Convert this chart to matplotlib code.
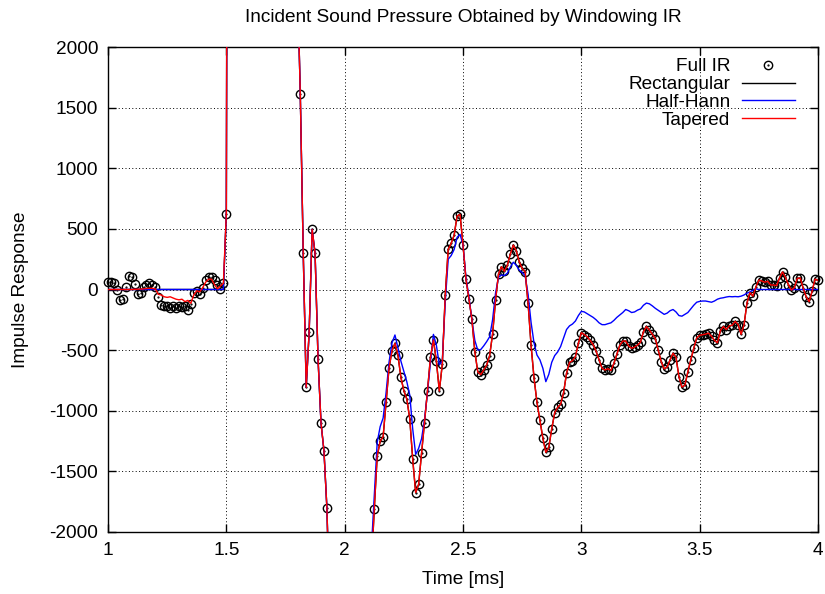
import numpy as np
import matplotlib
matplotlib.use("Agg")
import matplotlib.pyplot as plt
from matplotlib.legend_handler import HandlerTuple

plt.rcParams['font.family'] = ['Liberation Sans', 'DejaVu Sans']
plt.rcParams['axes.unicode_minus'] = False

# sample grid of the impulse response
t_start = 1.0    # ms
dt = 0.0125      # ms per sample

# full (unwindowed) impulse response, one value per sample from 1.0 ms to 4.0 ms
full_ir = [
    64, 60, 50, -5, -90, -80, 20, 110, 100, 45, -40, -25, 20, 40, 55, 40,
    20, -60, -130, -140, -135, -150, -140, -150, -140, -145, -135, -165, -120,
    -25, -10, -40, 15, 80, 100, 100, 75, 40, 5, 55, 625,
    # direct sound, far above the plotted range
    12000, 19000, 16000, 9500, 6000, 5200, 7400, 8100, 6300, 4700, 4100, 5300,
    6100, 5400, 4300, 3700, 4600, 5100, 4700, 3900, 3500, 3900, 4100, 2600,
    1610, 298, -807, -350, 496, 298, -573, -1100, -1330, -1805,
    -2700, -4500, -6200, -7100, -6400, -5500, -4900, -5200, -4700, -4000,
    -3400, -3700, -3100, -2800, -2300,
    -1813, -1373, -1252, -1214, -930, -647, -505, -444, -540, -724, -834, -903,
    -1065, -1400, -1675, -1607, -1351, -1104, -834, -559, -416, -590, -837,
    -617, -45, 331, 381, 447, 606, 620, 367, 84, -76, -246, -513, -680, -702,
    -664, -623, -546, -367, -89, 128,
    188, 150, 200, 293, 367, 320, 230, 175, 147, -114, -458, -727, -930, -1076,
    -1227, -1343, -1302, -1148, -1016, -972, -947, -851, -691, -601, -587,
    -554, -444, -356, -372, -390, -420, -455, -510,
    -580, -650, -664, -653, -668, -610, -535, -460, -425, -425, -466, -485,
    -475, -458, -435, -348, -305, -334, -370, -405, -500, -595, -655, -640,
    -580, -525, -560, -720, -805, -790, -680, -580, -485, -400, -378, -373,
    -368, -360, -385, -420, -440, -340, -305, -330, -300, -295, -262, -290,
    -370, -290, -110, -25, -55, 20, 78, 70, 60, 68, 37, 37, 32, 95, 145, 100,
    40, -5, 15, 92, 95, 10, -60, -100, -15, 86, 75,
]

# tapered window: leading samples before the window reaches full gain
tapered_head = [
    0, 0, 0, 0, 0, 0, 0, 0, 0, 2, 2, 3, 5, 8, 10, 10, 5, -40, -45, -60, -65,
    -60, -70, -80, -85, -80, -100, -90, -114, -45, -10, -20, 15, 60, 85, 85,
    40, 5, 30, 50,
]

# half-Hann windowed response where it departs from the full IR
hann_start = 40
hann_tail_start = 89
half_hann_tail = [
    -2150, -1700, -1260, -1131, -1060, -850, -600, -440, -375, -480, -590,
    -675, -760, -870, -1150, -1360, -1310, -1230, -1070, -850, -600, -370,
    -460, -620, -590, -100, 250, 280, 330, 430, 455, 370, 100, -60, -250,
    -420, -500, -495, -465, -430, -390, -250, -30, 100, 120, 115, 135, 185,
    225, 200, 160, 140, 115, -40, -270, -440, -540, -580, -650, -760, -700,
    -600, -545, -515, -470, -400, -330, -300, -285, -260, -215, -180, -185,
    -200, -215, -230, -250, -275, -290, -290, -282, -275, -255, -230, -210,
    -190, -165, -175, -190, -185, -170, -160, -130, -112, -118, -135, -155,
    -172, -190, -205, -195, -175, -165, -185, -215, -220, -205, -190, -160,
    -130, -105, -98, -95, -95, -100, -105, -95, -80, -72, -68, -62, -58, -60,
    -58, -60, -55, -45, -30, -20, -5, 5,
]

rect_start = 40

n = len(full_ir)
t = t_start + dt * np.arange(n)
full = np.array(full_ir, dtype=float)

rect = np.zeros(n)
rect[rect_start:] = full[rect_start:]

half_hann = np.zeros(n)
half_hann[hann_start:hann_tail_start] = full[hann_start:hann_tail_start]
half_hann[hann_tail_start:hann_tail_start + len(half_hann_tail)] = half_hann_tail

tapered = np.concatenate([tapered_head, full[len(tapered_head):]])

ymin, ymax = -2000, 2000
fs = 13.7

fig = plt.figure(figsize=(8.25, 5.94), dpi=100)
ax = fig.add_axes([108 / 825, 1 - 532 / 594, 710 / 825, 485 / 594])

inside = (full >= ymin) & (full <= ymax)
circ, = ax.plot(t[inside], full[inside], 'o', ms=6, mfc='none', mec='black',
                mew=1.0, clip_on=False, zorder=2)
dot, = ax.plot(t[inside], full[inside], '.', ms=1.2, color='black',
               clip_on=False, zorder=2)
l_rect, = ax.plot(t, rect, color='black', lw=1.0, zorder=3)
l_hann, = ax.plot(t, half_hann, color='#0000ff', lw=1.0, zorder=4)
l_tap, = ax.plot(t, tapered, color='#ff0000', lw=1.0, zorder=5)

ax.set_xlim(1, 4)
ax.set_ylim(ymin, ymax)
ax.set_xticks(np.arange(1, 4.01, 0.5))
ax.set_xticklabels(['%g' % v for v in np.arange(1, 4.01, 0.5)])
ax.set_yticks(np.arange(ymin, ymax + 1, 500))
ax.set_yticklabels(['%d' % v for v in np.arange(ymin, ymax + 1, 500)])
ax.tick_params(direction='in', top=True, right=True, length=6, width=1,
               labelsize=fs, pad=7)
ax.grid(True, linestyle=(0, (1, 2.5)), color='black', lw=0.7)
ax.set_axisbelow(True)
for s in ax.spines.values():
    s.set_linewidth(1.0)

ax.set_xlabel('Time [ms]', fontsize=fs, labelpad=9)
ax.set_ylabel('Impulse Response', fontsize=fs, labelpad=15)
fig.text(463 / 825, 1 - 18 / 594, 'Incident Sound Pressure Obtained by Windowing IR',
         ha='center', va='center', fontsize=fs)

leg = ax.legend([(circ, dot), l_rect, l_hann, l_tap],
                ['Full IR', 'Rectangular', 'Half-Hann', 'Tapered'],
                handler_map={tuple: HandlerTuple(ndivide=1, pad=0)},
                loc='upper right', bbox_to_anchor=(795 / 825, 1 - 58 / 594),
                bbox_transform=fig.transFigure, frameon=False, markerfirst=False,
                fontsize=fs, handlelength=2.8, handletextpad=0.6,
                labelspacing=0.03, borderpad=0, borderaxespad=0)

fig.savefig('out.png', dpi=100)
